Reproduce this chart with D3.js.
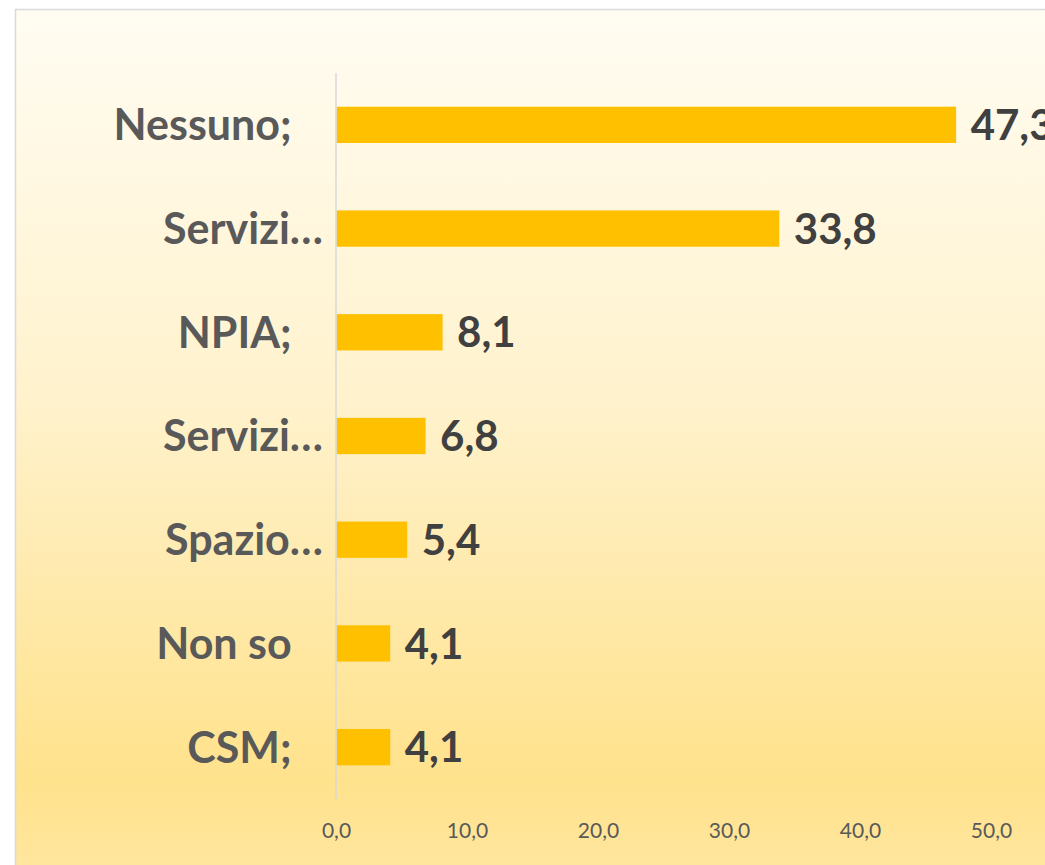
<!DOCTYPE html>
<html>
<head>
<meta charset="utf-8">
<script src="https://cdn.jsdelivr.net/npm/d3@7/dist/d3.min.js"></script>
<style>
html,body{margin:0;padding:0;background:#ffffff;}
svg{display:block;}
text{white-space:pre;}
</style>
</head>
<body>
<svg id="chart" width="1045" height="865"></svg>
<script>
// Data
const categories = ["Nessuno;   ", "Servizi…", "NPIA;   ", "Servizi…", "Spazio…", "Non so   ", "CSM;   "];
const values = [47.3, 33.8, 8.1, 6.8, 5.4, 4.1, 4.1];
const valueLabels = ["47,3", "33,8", "8,1", "6,8", "5,4", "4,1", "4,1"];
const tickValues = [0, 10, 20, 30, 40, 50];
const tickLabels = ["0,0", "10,0", "20,0", "30,0", "40,0", "50,0"];

const W = 1045, H = 865;
const svg = d3.select("#chart");
const font = "Lato, 'Open Sans', sans-serif";

// background gradient
const defs = svg.append("defs");
const grad = defs.append("linearGradient").attr("id", "bg").attr("x1", 0).attr("y1", 0).attr("x2", 0).attr("y2", 1);
[[0, "#FFFCF2"], [0.45, "#FFF2CC"], [0.88, "#FFE28C"], [1, "#FFE7A2"]].forEach(s =>
  grad.append("stop").attr("offset", s[0]).attr("stop-color", s[1]));

svg.append("rect").attr("x", 15.5).attr("y", 9.5).attr("width", W + 10).attr("height", H + 10)
  .attr("fill", "url(#bg)").attr("stroke", "#D9D9D9").attr("stroke-width", 1.5);

const margin = {left: 336, top: 73, bottom: 799};
const x = d3.scaleLinear().domain([0, 50]).range([336, 991]);
const y = d3.scaleBand().domain(d3.range(categories.length)).range([margin.top, margin.bottom])
  .paddingInner(0.65).paddingOuter(0.325);

// bars
svg.append("g").selectAll("rect").data(values).join("rect")
  .attr("x", x(0) + 0.5)
  .attr("y", (d, i) => y(i))
  .attr("width", d => x(d) - x(0))
  .attr("height", y.bandwidth())
  .attr("fill", "#FFC000");

// axis line
svg.append("line").attr("x1", x(0)).attr("x2", x(0)).attr("y1", margin.top).attr("y2", margin.bottom)
  .attr("stroke", "#D9D9D9").attr("stroke-width", 1.5);

// category labels
svg.append("g").selectAll("text").data(categories).join("text")
  .attr("x", 323)
  .attr("y", (d, i) => y(i) + y.bandwidth() / 2)
  .attr("dy", "0.36em")
  .attr("text-anchor", "end")
  .attr("font-family", font).attr("font-weight", "bold").attr("font-size", 43)
  .attr("fill", "#595959")
  .text(d => d);

// value labels
svg.append("g").selectAll("text").data(values).join("text")
  .attr("x", d => x(d) + 15)
  .attr("y", (d, i) => y(i) + y.bandwidth() / 2)
  .attr("dy", "0.36em")
  .attr("font-family", font).attr("font-weight", "bold").attr("font-size", 42)
  .attr("fill", "#404040")
  .text((d, i) => valueLabels[i]);

// x tick labels
const xAxis = d3.axisBottom(x).tickValues(tickValues).tickFormat((d, i) => tickLabels[i]).tickSize(0).tickPadding(0);
const gx = svg.append("g").attr("transform", "translate(0,838)").call(xAxis);
gx.select(".domain").remove();
gx.selectAll("text").attr("font-family", font).attr("font-size", 21).attr("fill", "#595959").attr("dy", 0);
</script>
</body>
</html>
